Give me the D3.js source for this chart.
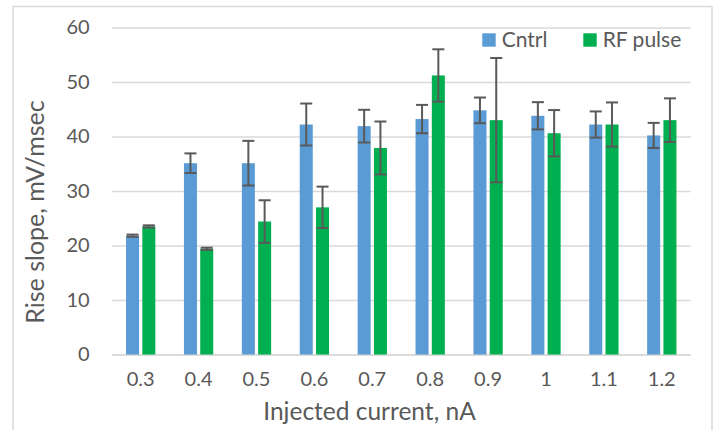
<!DOCTYPE html>
<html>
<head>
<meta charset="utf-8">
<script src="https://cdn.jsdelivr.net/npm/d3@7"></script>
<style>
  html, body { margin: 0; padding: 0; background: #fff; }
  svg { display: block; font-family: Lato, "Open Sans", sans-serif; }
</style>
</head>
<body>
<svg id="chart" width="715" height="430"></svg>
<script>
const categories = ["0.3", "0.4", "0.5", "0.6", "0.7", "0.8", "0.9", "1", "1.1", "1.2"];
const seriesNames = ["Cntrl", "RF pulse"];
const cntrl    = [21.8, 35.1, 35.1, 42.2, 41.9, 43.2, 44.8, 43.8, 42.2, 40.2];
const cntrlErr = [0.2, 1.8, 4.1, 3.85, 3.0, 2.6, 2.35, 2.5, 2.4, 2.3];
const rf       = [23.5, 19.4, 24.4, 27.0, 37.9, 51.2, 43.0, 40.6, 42.2, 43.0];
const rfErr    = [0.2, 0.2, 3.9, 3.8, 4.85, 4.8, 11.4, 4.25, 4.05, 4.0];
const yTicks = [0, 10, 20, 30, 40, 50, 60];
const colors = ["#5B9BD5", "#00B050"];

const svg = d3.select("#chart");
const plot = { left: 111.7, right: 690.7, top: 27.5, bottom: 354.5 };

// chart area border
svg.append("rect")
  .attr("x", 13).attr("y", 6.5).attr("width", 699).attr("height", 440)
  .attr("fill", "#fff").attr("stroke", "#D9D9D9").attr("stroke-width", 1.5);

const x = d3.scaleBand().domain(categories).range([plot.left, plot.right]).padding(0);
const bw = x.bandwidth();
const x1 = d3.scaleBand().domain(seriesNames).range([bw * 0.2478, bw * 0.7537]).paddingInner(0.2).paddingOuter(0);
const y = d3.scaleLinear().domain([0, 60]).range([plot.bottom, plot.top]);

// gridlines + y labels
const yAxis = svg.append("g")
  .attr("transform", `translate(${plot.left},0)`)
  .call(d3.axisLeft(y).tickValues(yTicks).tickSize(-(plot.right - plot.left)).tickPadding(22));
yAxis.select(".domain").remove();
yAxis.selectAll(".tick line").attr("stroke", "#D9D9D9").attr("stroke-width", 1.5);
yAxis.selectAll(".tick text").attr("fill", "#595959").style("font-size", "20px")
  .style("font-family", "Lato, sans-serif");

// x axis
const xAxis = svg.append("g")
  .attr("transform", `translate(0,${plot.bottom})`)
  .call(d3.axisBottom(x).tickSize(0).tickPadding(17));
xAxis.select(".domain").attr("stroke", "#D9D9D9").attr("stroke-width", 1.5);
xAxis.selectAll(".tick text").attr("fill", "#595959").style("font-size", "20px")
  .style("font-family", "Lato, sans-serif");

const data = categories.map((c, i) => ({
  cat: c,
  vals: [
    { s: seriesNames[0], v: cntrl[i], e: cntrlErr[i], col: colors[0] },
    { s: seriesNames[1], v: rf[i], e: rfErr[i], col: colors[1] }
  ]
}));

const groups = svg.append("g").selectAll("g").data(data).join("g")
  .attr("transform", d => `translate(${x(d.cat)},0)`);

groups.selectAll("rect").data(d => d.vals).join("rect")
  .attr("x", d => x1(d.s))
  .attr("width", x1.bandwidth())
  .attr("y", d => y(d.v))
  .attr("height", d => y(0) - y(d.v))
  .attr("fill", d => d.col);

// error bars
const capW = x1.bandwidth() - 1;
const eb = groups.selectAll("g.err").data(d => d.vals).join("g").attr("class", "err")
  .attr("stroke", "#595959").attr("stroke-width", 2);
eb.append("line")
  .attr("x1", d => x1(d.s) + x1.bandwidth() / 2).attr("x2", d => x1(d.s) + x1.bandwidth() / 2)
  .attr("y1", d => y(d.v + d.e)).attr("y2", d => y(d.v - d.e));
eb.append("line")
  .attr("x1", d => x1(d.s) + x1.bandwidth() / 2 - capW / 2).attr("x2", d => x1(d.s) + x1.bandwidth() / 2 + capW / 2)
  .attr("y1", d => y(d.v + d.e)).attr("y2", d => y(d.v + d.e));
eb.append("line")
  .attr("x1", d => x1(d.s) + x1.bandwidth() / 2 - capW / 2).attr("x2", d => x1(d.s) + x1.bandwidth() / 2 + capW / 2)
  .attr("y1", d => y(d.v - d.e)).attr("y2", d => y(d.v - d.e));

// axis titles
svg.append("text")
  .attr("x", 369.5).attr("y", 420)
  .attr("text-anchor", "middle").attr("fill", "#595959")
  .style("font-size", "24.5px")
  .text("Injected current, nA");

svg.append("text")
  .attr("transform", "translate(44,212) rotate(-90)")
  .attr("text-anchor", "middle").attr("fill", "#595959")
  .style("font-size", "25px")
  .text("Rise slope, mV/msec");

// legend
const legendX = [482.3, 583.3];
const leg = svg.append("g").selectAll("g").data(seriesNames).join("g")
  .attr("transform", (d, i) => `translate(${legendX[i]},33.3)`);
leg.append("rect").attr("width", 13.4).attr("height", 13.4).attr("fill", (d, i) => colors[i]);
leg.append("text").attr("x", 19.4).attr("y", 13.4)
  .attr("fill", "#595959").style("font-size", "21px").text(d => d);
</script>
</body>
</html>
